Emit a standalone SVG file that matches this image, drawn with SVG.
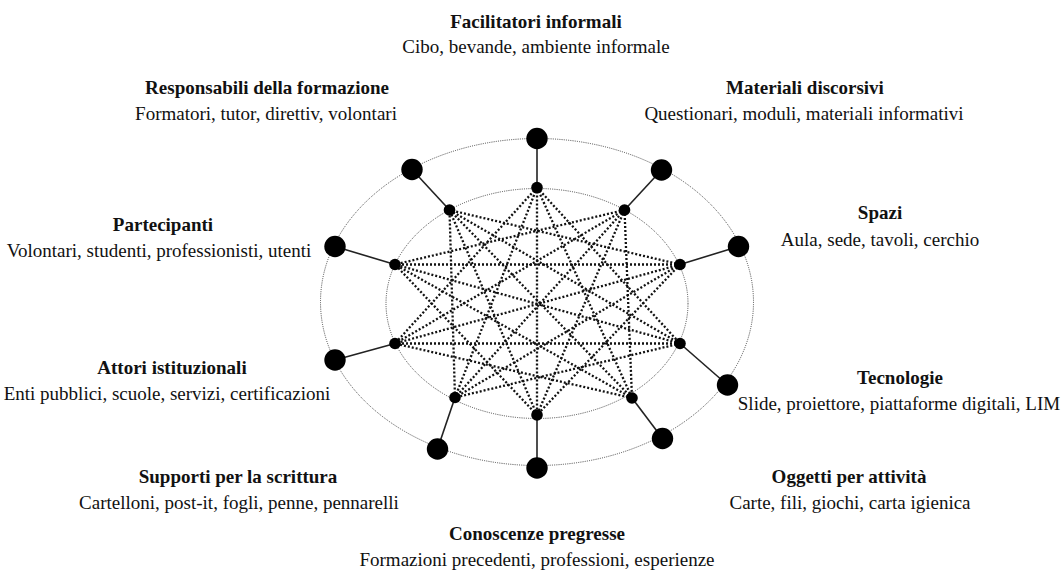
<svg xmlns="http://www.w3.org/2000/svg" width="1063" height="571" viewBox="0 0 1063 571">
<style>
.ring{fill:none;stroke:#444;stroke-width:1;stroke-dasharray:1 1.2}
.dot{fill:none;stroke:#111;stroke-width:2.3;stroke-dasharray:2 2}
.spoke{stroke:#222;stroke-width:1.6}
.big{fill:#000}
.small{fill:#000}
text{font-family:"Liberation Serif","Times New Roman",serif;font-size:19px;fill:#111;text-anchor:middle}
.t{font-weight:bold}
</style>
<rect width="1063" height="571" fill="#fff"/>
<ellipse class="ring" cx="537" cy="302" rx="216.5" ry="163.5"/>
<ellipse class="ring" cx="537" cy="303.5" rx="151" ry="115"/>
<g id="connectors">
<g id="web">
<line class="dot" x1="537" y1="187.5" x2="680" y2="343.5"/>
<line class="dot" x1="537" y1="187.5" x2="632" y2="398"/>
<line class="dot" x1="537" y1="187.5" x2="537" y2="415"/>
<line class="dot" x1="537" y1="187.5" x2="455" y2="397.5"/>
<line class="dot" x1="537" y1="187.5" x2="395" y2="343.5"/>
<line class="dot" x1="624.5" y1="210" x2="632" y2="398"/>
<line class="dot" x1="624.5" y1="210" x2="537" y2="415"/>
<line class="dot" x1="624.5" y1="210" x2="455" y2="397.5"/>
<line class="dot" x1="624.5" y1="210" x2="395" y2="343.5"/>
<line class="dot" x1="624.5" y1="210" x2="395" y2="264.5"/>
<line class="dot" x1="680" y1="264.5" x2="537" y2="415"/>
<line class="dot" x1="680" y1="264.5" x2="455" y2="397.5"/>
<line class="dot" x1="680" y1="264.5" x2="395" y2="343.5"/>
<line class="dot" x1="680" y1="264.5" x2="395" y2="264.5"/>
<line class="dot" x1="680" y1="264.5" x2="449.5" y2="210"/>
<line class="dot" x1="680" y1="343.5" x2="455" y2="397.5"/>
<line class="dot" x1="680" y1="343.5" x2="395" y2="343.5"/>
<line class="dot" x1="680" y1="343.5" x2="395" y2="264.5"/>
<line class="dot" x1="680" y1="343.5" x2="449.5" y2="210"/>
<line class="dot" x1="632" y1="398" x2="395" y2="343.5"/>
<line class="dot" x1="632" y1="398" x2="395" y2="264.5"/>
<line class="dot" x1="632" y1="398" x2="449.5" y2="210"/>
<line class="dot" x1="537" y1="415" x2="395" y2="264.5"/>
<line class="dot" x1="537" y1="415" x2="449.5" y2="210"/>
<line class="dot" x1="455" y1="397.5" x2="449.5" y2="210"/>
</g>
<g id="spokes">
<line class="spoke" x1="537" y1="187.5" x2="537" y2="138.5"/>
<line class="spoke" x1="624.5" y1="210" x2="661.5" y2="170"/>
<line class="spoke" x1="680" y1="264.5" x2="738.5" y2="246.5"/>
<line class="spoke" x1="680" y1="343.5" x2="727.5" y2="385"/>
<line class="spoke" x1="632" y1="398" x2="662.5" y2="438.5"/>
<line class="spoke" x1="537" y1="415" x2="537" y2="468"/>
<line class="spoke" x1="455" y1="397.5" x2="437.5" y2="449"/>
<line class="spoke" x1="395" y1="343.5" x2="335" y2="360"/>
<line class="spoke" x1="395" y1="264.5" x2="335" y2="246.5"/>
<line class="spoke" x1="449.5" y1="210" x2="412" y2="169.5"/>
</g>
</g>
<g id="facilitatori">
<circle class="big" cx="537" cy="138.5" r="10.7"/><circle class="small" cx="537" cy="187.5" r="5.8"/>
<text class="t" x="536" y="28">Facilitatori informali</text>
<text x="536" y="53">Cibo, bevande, ambiente informale</text>
</g>
<g id="materiali">
<circle class="big" cx="661.5" cy="170" r="10.7"/><circle class="small" cx="624.5" cy="210" r="5.8"/>
<text class="t" x="805" y="94">Materiali discorsivi</text>
<text x="804" y="120">Questionari, moduli, materiali informativi</text>
</g>
<g id="spazi">
<circle class="big" cx="738.5" cy="246.5" r="10.7"/><circle class="small" cx="680" cy="264.5" r="5.8"/>
<text class="t" x="880" y="219">Spazi</text>
<text x="880" y="246">Aula, sede, tavoli, cerchio</text>
</g>
<g id="tecnologie">
<circle class="big" cx="727.5" cy="385" r="10.7"/><circle class="small" cx="680" cy="343.5" r="5.8"/>
<text class="t" x="900" y="384">Tecnologie</text>
<text x="899" y="410">Slide, proiettore, piattaforme digitali, LIM</text>
</g>
<g id="oggetti">
<circle class="big" cx="662.5" cy="438.5" r="10.7"/><circle class="small" cx="632" cy="398" r="5.8"/>
<text class="t" x="849" y="483">Oggetti per attività</text>
<text x="850" y="509">Carte, fili, giochi, carta igienica</text>
</g>
<g id="conoscenze">
<circle class="big" cx="537" cy="468" r="10.7"/><circle class="small" cx="537" cy="415" r="5.8"/>
<text class="t" x="537" y="540">Conoscenze pregresse</text>
<text x="537" y="566">Formazioni precedenti, professioni, esperienze</text>
</g>
<g id="supporti">
<circle class="big" cx="437.5" cy="449" r="10.7"/><circle class="small" cx="455" cy="397.5" r="5.8"/>
<text class="t" x="238" y="483">Supporti per la scrittura</text>
<text x="239" y="509">Cartelloni, post-it, fogli, penne, pennarelli</text>
</g>
<g id="attori">
<circle class="big" cx="335" cy="360" r="10.7"/><circle class="small" cx="395" cy="343.5" r="5.8"/>
<text class="t" x="172" y="374">Attori istituzionali</text>
<text x="167" y="400">Enti pubblici, scuole, servizi, certificazioni</text>
</g>
<g id="partecipanti">
<circle class="big" cx="335" cy="246.5" r="10.7"/><circle class="small" cx="395" cy="264.5" r="5.8"/>
<text class="t" x="163" y="231">Partecipanti</text>
<text x="159" y="257">Volontari, studenti, professionisti, utenti</text>
</g>
<g id="responsabili">
<circle class="big" cx="412" cy="169.5" r="10.7"/><circle class="small" cx="449.5" cy="210" r="5.8"/>
<text class="t" x="267" y="94">Responsabili della formazione</text>
<text x="266" y="120">Formatori, tutor, direttiv, volontari</text>
</g>
</svg>
